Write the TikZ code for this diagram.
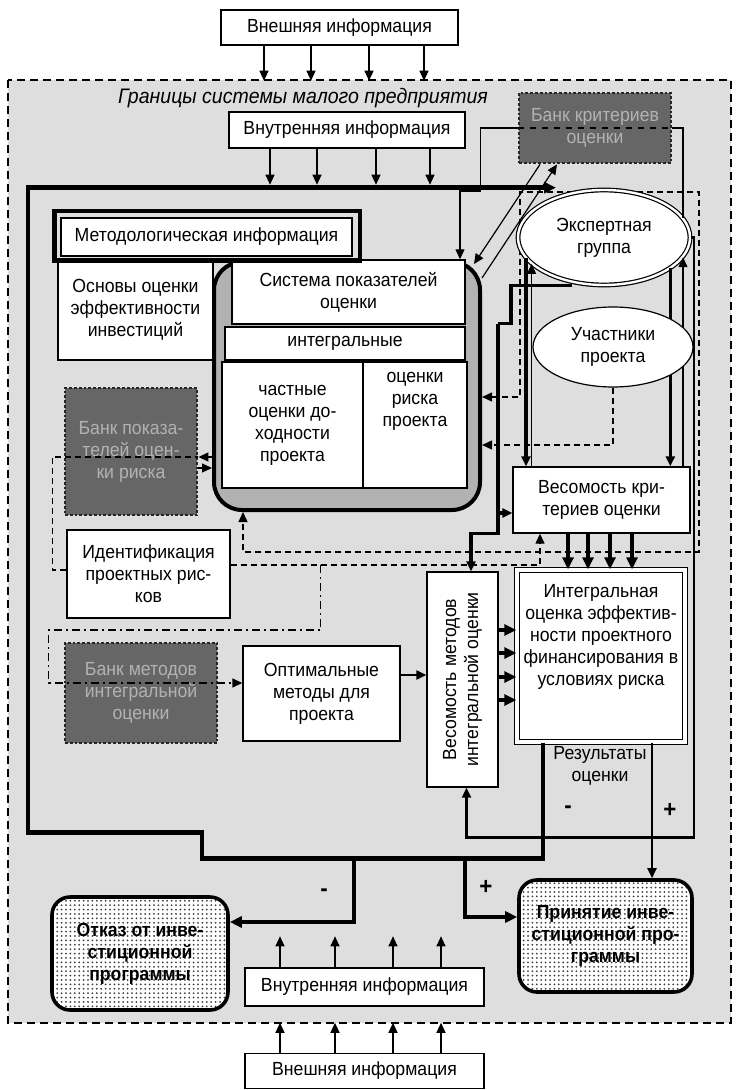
\documentclass[tikz,border=0pt]{standalone}
\usepackage{fontspec}
\setmainfont{Liberation Sans}[FakeStretch=0.93]
\usetikzlibrary{arrows.meta,shapes.geometric,patterns.meta,positioning}

\begin{document}
\begin{tikzpicture}[x=0.5pt,y=-0.5pt,>={Triangle[length=5pt,width=4.5pt]},
        font=\fontsize{9.5}{11}\selectfont]
        \tikzstyle{box}=[draw,fill=white,line width=0.7pt,align=center,inner sep=1pt]
        \tikzstyle{bank}=[draw=black!85,fill=black!60,line width=1.4pt,densely dotted,text=black!30,align=center]
        \tikzstyle{oval}=[ellipse,draw,fill=white,line width=0.6pt,align=center,inner sep=0pt]
        \tikzstyle{decision}=[draw,line width=1.8pt,rounded corners=9pt,preaction={fill=white},
            pattern={Dots[distance=2.2pt,radius=0.5pt]},pattern color=black!75,align=center,
            font=\fontsize{9.5}{11}\selectfont\bfseries]
        \tikzstyle{link}=[line width=0.6pt]
        \tikzstyle{medium}=[line width=1.1pt]
        \tikzstyle{heavy}=[line width=1.6pt]
        \tikzstyle{mainline}=[line width=2.3pt]
        \tikzstyle{bigtip}=[-{Triangle[length=6pt,width=5.5pt]}]
        \tikzstyle{flow}=[line width=0.7pt,dash pattern=on 3pt off 2pt]
        \tikzstyle{flowdot}=[line width=0.7pt,dash pattern=on 4pt off 2pt on 1pt off 2pt]
        \tikzstyle{sign}=[font=\fontsize{12}{12}\selectfont\bfseries]

        \useasboundingbox (0,0) rectangle (736,1090);
        \fill[black!13] (8,80) rectangle (731,1023);
        \draw[line width=1pt,dash pattern=on 4pt off 2.5pt] (8,80) rectangle (731,1023);

        \node[box,minimum width=118.5pt,minimum height=17.5pt] (extTop) at (339.5,27.5) {Внешняя информация};
        \node[font=\fontsize{10.5}{12}\selectfont\itshape] (bound) at (303,98) {Границы системы малого предприятия};
        \node[box,minimum width=118pt,minimum height=18pt] (intTop) at (347,130) {Внутренняя информация};
        \node[bank,minimum width=76pt,minimum height=35pt] (bankCrit) at (595,128) {Банк критериев\\оценки};

        \node[draw,line width=2pt,rounded corners=14pt,fill=black!30,minimum width=133pt,minimum height=124pt] (sysFrame) at (347,386) {};
        \node[box,minimum width=116.5pt,minimum height=32pt] (sysTitle) at (348.5,292) {Система показателей\\оценки};
        \node[box,minimum width=120pt,minimum height=16.5pt] (integr) at (345,343.5) {интегральные};
        \node[box,minimum width=70.5pt,minimum height=63pt] (chast) at (292.5,425) {частные\\оценки до-\\ходности\\проекта};
        \node[box,minimum width=52pt,minimum height=63pt,right=-0.7pt of chast,
            label={[align=center,anchor=north,yshift=-2pt]north:оценки\\риска\\проекта}] (risk) {};

        \node[box,minimum width=77.5pt,minimum height=50pt] (osnovy) at (135.5,310) {Основы оценки\\эффективности\\инвестиций};
        \node[box,minimum width=145.5pt,minimum height=19pt] (method) at (206.5,237) {Методологическая информация};
        \draw[line width=2.2pt] ([shift={(-3pt,3pt)}]method.north west) rectangle ([shift={(3.5pt,-2pt)}]method.south east);

        \node[bank,minimum width=66pt,minimum height=63.5pt] (bankRisk) at (131,451.5) {Банк показа-\\телей оцен-\\ки риска};
        \node[box,minimum width=81.5pt,minimum height=44pt] (ident) at (148.5,574) {Идентификация\\проектных рис-\\ков};
        \node[bank,minimum width=76pt,minimum height=50pt] (bankMeth) at (141,693) {Банк методов\\интегральной\\оценки};
        \node[box,minimum width=78.5pt,minimum height=47.5pt] (optim) at (321.5,693.5) {Оптимальные\\методы для\\проекта};
        \node[box,minimum width=35.5pt,minimum height=107.5pt,
            label={[rotate=90,align=center]center:Весомость методов\\интегральной оценки}] (vesMeth) at (462.5,679.5) {};
        \node[box,minimum width=84pt,minimum height=86pt,double,double distance=1.6pt,
            label={[align=center,anchor=north,yshift=-4pt]north:Интегральная\\оценка эффектив-\\ности проектного\\финансирования в\\условиях риска}] (integral) at (601,656) {};
        \node[box,minimum width=88.5pt,minimum height=33pt] (vesCrit) at (601.5,500) {Весомость кри-\\териев оценки};

        \draw[flow,<->] ([yshift=-5.5pt]sysFrame.east) -- ++(38,0) -- ++(0,-205) -- ++(179,0) -- ++(0,360) -| ([xshift=-52pt]sysFrame.south);

        \node[oval,double,double distance=1.2pt,minimum width=86pt,minimum height=47.5pt] (expert) at (604,237.5) {Экспертная\\группа};

        \draw[link] (expert.14) |- (bankCrit.east);
        \draw[link,->] (bankCrit.west) -- ++(-37,0) -- ++(0,63) -| ([xshift=55.75pt]sysTitle.north);
        \draw[link,dashed] (bankCrit.west) -- (bankCrit.east);
        \draw[link,->] ([xshift=-27.5pt]bankCrit.south) -- ([xshift=-4pt,yshift=-2pt]sysFrame.north east);
        \draw[link,->] ([yshift=-9pt]sysFrame.north east) -- ([xshift=-19pt]bankCrit.south);

        \draw[heavy,->] (expert.195) -- (expert.195 |- vesCrit.north);
        \draw[link,->] (vesCrit.north -| expert.200) -- (expert.200);
        \draw[heavy,->] (expert.-25) -- (expert.-25 |- vesCrit.north);
        \draw[link,->] (vesCrit.north -| expert.-14) -- (expert.-14);
        \draw[medium,->] (expert.east) -- ++(3,0) -- ++(0,600) -| ([xshift=2pt]vesMeth.south);

        \node[oval,minimum width=80pt,minimum height=40pt] (uchast) at (613,347) {Участники\\проекта};
        \draw[flow,->] (uchast.south) |- ([yshift=-29.5pt]sysFrame.east);

        \draw[heavy] ([xshift=-16pt]expert.south) -- ++(-61,0) -- ++(0,38) -- ++(-13,0) coordinate (jB);
        \draw[heavy,->] (jB) |- ([yshift=-6.5pt]vesCrit.west);
        \draw[heavy,->] (jB) -- ++(0,210) -| ([xshift=4.25pt]vesMeth.north);

        \draw[flow,->] ([yshift=4.5pt]ident.east) -- ++(90,0) coordinate (jC) -| ([xshift=-30.75pt]vesCrit.south);
        \draw[flowdot,->] (jC) -- ++(0,65) -- ++(-272,0) |- ([yshift=5.25pt]optim.west);
        \draw[flow] ([yshift=2pt]ident.west) -- ++(-14,0) |- ([yshift=-2.75pt]bankRisk.east);
        \draw[link,->] ([yshift=-2.75pt]bankRisk.east -| sysFrame.west) -- ([yshift=-2.75pt]bankRisk.east);
        \draw[link,->] ([yshift=-8.25pt]bankRisk.east) -- ([yshift=-8.25pt]bankRisk.east -| sysFrame.west);

        \draw[medium,->] ([yshift=9.25pt]optim.east) -- ([yshift=9.25pt]optim.east -| vesMeth.west);
        \foreach \dy in {24.75,13.25,1.25,-10.25}
            \draw[heavy,bigtip] ([yshift=\dy pt]vesMeth.east) -- ([yshift=\dy pt]vesMeth.east -| integral.west);
        \foreach \dx in {-16.75,-6.75,4.25,15.25}
            \draw[heavy,bigtip] ([xshift=\dx pt]vesCrit.south) -- ([xshift=\dx pt]vesCrit.south |- integral.north);

        \node[align=center] (result) at (600,766) {Результаты\\оценки};
        \node[decision,minimum width=88pt,minimum height=56.5pt] (otkaz) at (140,953.5) {Отказ от инве-\\стиционной\\программы};
        \node[decision,minimum width=86.5pt,minimum height=56pt] (prinyat) at (605.5,936) {Принятие инве-\\стиционной про-\\граммы};

        \draw[mainline,bigtip] ([xshift=-29pt]integral.south) -- ++(0,116) -- ++(-78,0) coordinate (jP)
            -- ++(-111,0) coordinate (jM) -- ++(-152,0) -- ++(0,-26) -- ++(-174,0) -- ++(0,-645) -- ++(528,0);
        \draw[mainline,bigtip] (jM) |- ([yshift=15.75pt]otkaz.east);
        \draw[mainline,bigtip] (jP) |- ([yshift=9.5pt]prinyat.west);
        \draw[medium,->] ([xshift=25.5pt]integral.south) -- ([xshift=25.5pt]integral.south |- prinyat.north);

        \node[sign] (minusA) at (568,810) {-};
        \node[sign] (plusA) at (670,810) {+};
        \node[sign] (minusB) at (324,893) {-};
        \node[sign] (plusB) at (486,887) {+};

        \node[box,minimum width=119.5pt,minimum height=19pt] (intBot) at (364.5,987) {Внутренняя информация};
        \node[box,minimum width=119.5pt,minimum height=17.5pt] (extBot) at (364.5,1071) {Внешняя информация};

        \foreach \dx in {-75.5,-28.5,29.5,84.5}
            \draw[link,->] ([xshift=\dx*0.5pt]extTop.south) -- ++(0,35);
        \foreach \dx in {-77,-30,29,83}
            \draw[link,->] ([xshift=\dx*0.5pt]intTop.south) -- ++(0,36);
        \foreach \dx in {-84.5,-29.5,28.5,76.5} {
            \draw[link,->] ([xshift=\dx*0.5pt]intBot.north) -- ++(0,-31);
            \draw[link,->] ([xshift=\dx*0.5pt]extBot.north) -- ++(0,-30);
        }
\end{tikzpicture}
\end{document}
